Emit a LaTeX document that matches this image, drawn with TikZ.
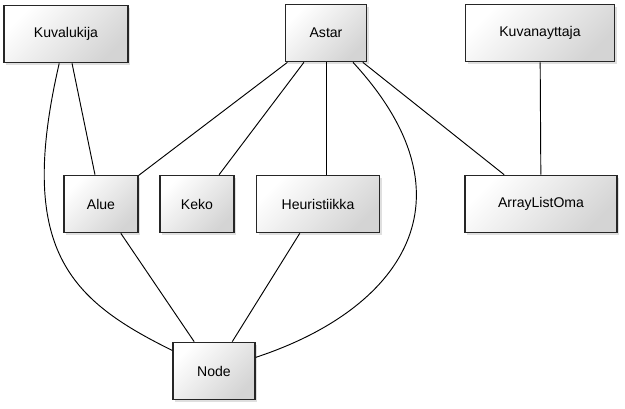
\documentclass[tikz,border=0pt]{standalone}
\usepackage{fontspec}
\setmainfont{Liberation Sans}
\usetikzlibrary{shadows}

\begin{document}
\begin{tikzpicture}[x=0.03cm,y=-0.03cm,line width=0.8pt,
        box/.style={draw=black!85,line width=1.1pt,minimum height=1.72cm,
          inner sep=2pt,font=\fontsize{12}{14}\selectfont,
          shading=axis,left color=white,right color=black!17,shading angle=45,
          drop shadow={opacity=0.25,shadow xshift=2pt,shadow yshift=-2pt}}]

  \useasboundingbox (0,0) rectangle (625,408);

  \node[box,minimum width=3.72cm] (kv) at (66,34)  {Kuvalukija};
  \node[box,minimum width=2.43cm] (as) at (326,33) {Astar};
  \node[box,minimum width=4.47cm] (kn) at (540,33) {Kuvanayttaja};
  \node[box,minimum width=2.22cm] (al) at (101,204) {Alue};
  \node[box,minimum width=2.22cm] (ke) at (197,204) {Keko};
  \node[box,minimum width=3.69cm] (he) at (318,204) {Heuristiikka};
  \node[box,minimum width=4.56cm] (ao) at (541,204) {ArrayListOma};
  \node[box,minimum width=2.46cm] (nd) at (214,371) {Node};

  \path (kv) edge (al)
        (as) edge (al)
        (as) edge (ke)
        (as) edge (ao)
        (kn) edge (ao)
        (al) edge (nd)
        (he) edge (nd);
  \draw (as.south) -- (as.south |- he.north);

  \draw (kv) .. controls (16,250) and (70,300) .. (nd);
  \draw (as) .. controls (480,200) and (400,310) .. (nd);

\end{tikzpicture}
\end{document}
